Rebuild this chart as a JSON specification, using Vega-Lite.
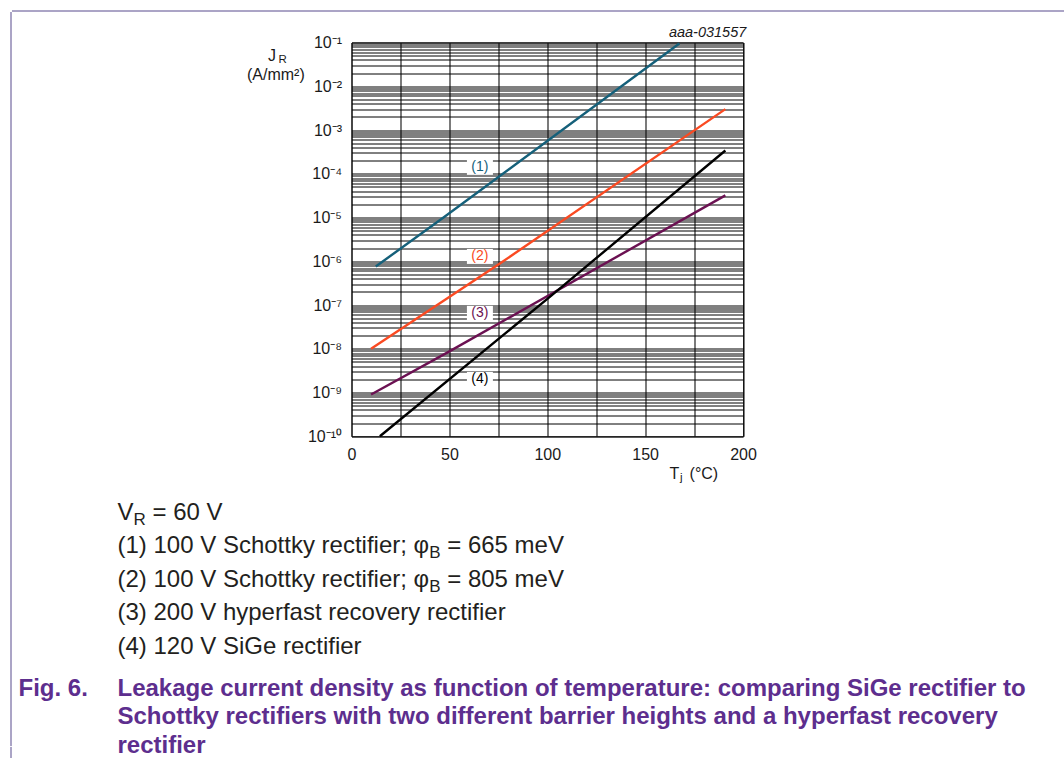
{
  "$schema": "https://vega.github.io/schema/vega-lite/v6.json",
  "background": "white",
  "padding": {"left": 9.5, "top": 9.5, "right": 0, "bottom": 0},
  "config": {"view": {"stroke": null}, "font": "Liberation Sans"},
  "bounds": "flush",
  "spacing": 0,
  "columns": 5,
  "align": "each",
  "concat": [
    {"width": 0.001, "height": 0.001, "data": {"values": []}, "mark": "point"},
    {"width": 7, "height": 0.001, "data": {"values": []}, "mark": "point", "view": {"stroke": "#8f86b3", "strokeWidth": 1}},
    {"width": 99, "height": 0.001, "data": {"values": []}, "mark": "point", "view": {"stroke": "#8f86b3", "strokeWidth": 1}},
    {"width": 234, "height": 0.001, "data": {"values": []}, "mark": "point", "view": {"stroke": "#8f86b3", "strokeWidth": 1}},
    {"width": 713, "height": 0.001, "data": {"values": []}, "mark": "point", "view": {"stroke": "#8f86b3", "strokeWidth": 1}},

    {"width": 0.001, "height": 31, "data": {"values": []}, "mark": "point", "view": {"stroke": "#8f86b3", "strokeWidth": 1}},
    {"width": 0.001, "height": 0.001, "data": {"values": []}, "mark": "point"},
    {"width": 0.001, "height": 0.001, "data": {"values": []}, "mark": "point"},
    {"width": 0.001, "height": 0.001, "data": {"values": []}, "mark": "point"},
    {"width": 0.001, "height": 0.001, "data": {"values": []}, "mark": "point"},

    {"width": 0.001, "height": 403, "data": {"values": []}, "mark": "point", "view": {"stroke": "#8f86b3", "strokeWidth": 1}},
    {"width": 0.001, "height": 0.001, "data": {"values": []}, "mark": "point"},
    {"width": 0.001, "height": 0.001, "data": {"values": []}, "mark": "point"},
    {"width": 0.001, "height": 0.001, "data": {"values": []}, "mark": "point"},
    {
      "width": 391.5,
      "height": 393.8,
      "view": {"stroke": "#000000", "strokeWidth": 1},
      "encoding": {
        "x": {
          "field": "T", "type": "quantitative",
          "scale": {"domain": [0, 200], "nice": false, "zero": false},
          "axis": {
            "title": null,
            "values": [0, 25, 50, 75, 100, 125, 150, 175, 200],
            "labelExpr": "datum.value % 50 == 0 ? datum.label : ''",
            "grid": true, "gridColor": "#222222", "gridWidth": 1.2, "gridOpacity": 1,
            "ticks": false, "domain": false,
            "labelFontSize": 16, "labelColor": "#1a1a1a", "labelPadding": 10,
            "labelFlush": false, "labelOverlap": false
          }
        },
        "y": {
          "field": "J", "type": "quantitative",
          "scale": {"type": "log", "domain": [1e-10, 0.1], "nice": false},
          "axis": {
            "title": null,
            "values": [1e-10, 2e-10, 3e-10, 4e-10, 5e-10, 6e-10, 7e-10, 8e-10, 9e-10,
                       1e-9, 2e-9, 3e-9, 4e-9, 5e-9, 6e-9, 7e-9, 8e-9, 9e-9,
                       1e-8, 2e-8, 3e-8, 4e-8, 5e-8, 6e-8, 7e-8, 8e-8, 9e-8,
                       1e-7, 2e-7, 3e-7, 4e-7, 5e-7, 6e-7, 7e-7, 8e-7, 9e-7,
                       1e-6, 2e-6, 3e-6, 4e-6, 5e-6, 6e-6, 7e-6, 8e-6, 9e-6,
                       1e-5, 2e-5, 3e-5, 4e-5, 5e-5, 6e-5, 7e-5, 8e-5, 9e-5,
                       1e-4, 2e-4, 3e-4, 4e-4, 5e-4, 6e-4, 7e-4, 8e-4, 9e-4,
                       1e-3, 2e-3, 3e-3, 4e-3, 5e-3, 6e-3, 7e-3, 8e-3, 9e-3,
                       1e-2, 2e-2, 3e-2, 4e-2, 5e-2, 6e-2, 7e-2, 8e-2, 9e-2,
                       1e-1],
            "labelExpr": "abs(log(datum.value)/LN10 - round(log(datum.value)/LN10)) < 0.001 ? ['10⁻¹⁰','10⁻⁹','10⁻⁸','10⁻⁷','10⁻⁶','10⁻⁵','10⁻⁴','10⁻³','10⁻²','10⁻¹'][round(log(datum.value)/LN10) + 10] : ''",
            "grid": true,
            "gridColor": "#000000",
            "gridWidth": 1, "gridOpacity": 1,
            "ticks": false, "domain": false,
            "labelFontSize": 16, "labelColor": "#1a1a1a", "labelPadding": 10,
            "labelFlush": false, "labelOverlap": false
          }
        }
      },
      "layer": [
        {
          "data": {"values": [
            {"series": "(1)", "T": 12.4, "J": 7.6e-7},
            {"series": "(1)", "T": 47, "J": 1.0e-5},
            {"series": "(1)", "T": 167.5, "J": 0.095},
            {"series": "(2)", "T": 10, "J": 1.0e-8},
            {"series": "(2)", "T": 76, "J": 9.0e-7},
            {"series": "(2)", "T": 191, "J": 3.0e-3},
            {"series": "(3)", "T": 10, "J": 9.0e-10},
            {"series": "(3)", "T": 49.8, "J": 8.6e-9},
            {"series": "(3)", "T": 191, "J": 3.2e-5},
            {"series": "(4)", "T": 14.5, "J": 1.0e-10},
            {"series": "(4)", "T": 101, "J": 1.5e-7},
            {"series": "(4)", "T": 191, "J": 3.4e-4}
          ]},
          "mark": {"type": "line", "strokeWidth": 2.4},
          "encoding": {
            "color": {
              "field": "series", "type": "nominal",
              "scale": {"domain": ["(1)", "(2)", "(3)", "(4)"], "range": ["#15607a", "#fa4a22", "#6b1152", "#000000"]},
              "legend": null
            }
          }
        },
        {
          "data": {"values": [
            {"series": "(1)", "T": 65.6, "J": 1.40e-4},
            {"series": "(2)", "T": 65.6, "J": 1.29e-6},
            {"series": "(3)", "T": 65.6, "J": 6.45e-8},
            {"series": "(4)", "T": 65.6, "J": 2.0e-9}
          ]},
          "layer": [
            {
              "mark": {"type": "point", "shape": "M-1.733,-1H1.733V1H-1.733Z", "size": 225, "filled": true, "color": "#ffffff", "opacity": 1, "strokeWidth": 0}
            },
            {
              "mark": {"type": "text", "fontSize": 14, "align": "center", "baseline": "middle"},
              "encoding": {
                "text": {"field": "series"},
                "color": {
                  "field": "series", "type": "nominal",
                  "scale": {"domain": ["(1)", "(2)", "(3)", "(4)"], "range": ["#15607a", "#fa4a22", "#6b1152", "#000000"]},
                  "legend": null
                }
              }
            }
          ]
        },
        {
          "data": {"values": [
            {"text": "J", "T": -42.6, "J": 0.0479},
            {"text": "(A/mm²)", "T": -53.4, "J": 0.01762},
            {"text": "T", "T": 162.5, "J": 1.355e-11},
            {"text": "(°C)", "T": 172.7, "J": 1.355e-11}
          ]},
          "mark": {"type": "text", "fontSize": 16, "align": "left", "baseline": "middle", "color": "#1a1a1a"},
          "encoding": {"text": {"field": "text"}}
        },
        {
          "data": {"values": [
            {"text": "R", "T": -37.3, "J": 0.0388},
            {"text": "j", "T": 167.8, "J": 1.1e-11}
          ]},
          "mark": {"type": "text", "fontSize": 11.5, "align": "left", "baseline": "middle", "color": "#1a1a1a"},
          "encoding": {"text": {"field": "text"}}
        },
        {
          "data": {"values": [
            {"text": "aaa-031557", "T": 201.7, "J": 0.1607}
          ]},
          "mark": {"type": "text", "fontSize": 14.5, "fontStyle": "italic", "align": "right", "baseline": "middle", "color": "#1a1a1a"},
          "encoding": {"text": {"field": "text"}}
        }
      ]
    },

    {"width": 0.001, "height": 201, "data": {"values": []}, "mark": "point", "view": {"stroke": "#8f86b3", "strokeWidth": 1}},
    {"width": 0.001, "height": 0.001, "data": {"values": []}, "mark": "point"},
    {"width": 0.001, "height": 0.001, "data": {"values": []}, "mark": "point"},
    {
      "width": 234,
      "height": 201,
      "data": {"values": [
        {"line": 0, "part": "main", "text": "V"},
        {"line": 1, "part": "main", "text": "(1) 100 V Schottky rectifier; φ"},
        {"line": 2, "part": "main", "text": "(2) 100 V Schottky rectifier; φ"},
        {"line": 3, "part": "main", "text": "(3) 200 V hyperfast recovery rectifier"},
        {"line": 4, "part": "main", "text": "(4) 120 V SiGe rectifier"},
        {"line": 0, "part": "sub0", "text": "R"},
        {"line": 0, "part": "post0", "text": "= 60 V"},
        {"line": 1, "part": "sub12", "text": "B"},
        {"line": 2, "part": "sub12", "text": "B"},
        {"line": 1, "part": "post12", "text": "= 665 meV"},
        {"line": 2, "part": "post12", "text": "= 805 meV"}
      ]},
      "encoding": {
        "x": {"datum": 0, "type": "quantitative", "scale": {"domain": [0, 1]}, "axis": null},
        "y": {"field": "line", "type": "ordinal", "scale": {"type": "point", "padding": 1, "align": 1, "domain": [0, 1, 2, 3, 4]}, "axis": null},
        "text": {"field": "text"}
      },
      "layer": [
        {"transform": [{"filter": "datum.part == 'main'"}], "mark": {"type": "text", "align": "left", "baseline": "middle", "fontSize": 24, "color": "#231f20"}},
        {"transform": [{"filter": "datum.part == 'sub0'"}], "mark": {"type": "text", "align": "left", "baseline": "middle", "fontSize": 17, "dx": 16, "dy": 7, "color": "#231f20"}},
        {"transform": [{"filter": "datum.part == 'post0'"}], "mark": {"type": "text", "align": "left", "baseline": "middle", "fontSize": 24, "dx": 35, "color": "#231f20"}},
        {"transform": [{"filter": "datum.part == 'sub12'"}], "mark": {"type": "text", "align": "left", "baseline": "middle", "fontSize": 17, "dx": 311.7, "dy": 7, "color": "#231f20"}},
        {"transform": [{"filter": "datum.part == 'post12'"}], "mark": {"type": "text", "align": "left", "baseline": "middle", "fontSize": 24, "dx": 329.7, "color": "#231f20"}}
      ]
    },
    {"width": 0.001, "height": 0.001, "data": {"values": []}, "mark": "point"},

    {"width": 0.001, "height": 99.1, "data": {"values": []}, "mark": "point", "view": {"stroke": "#8f86b3", "strokeWidth": 1}},
    {"width": 0.001, "height": 0.001, "data": {"values": []}, "mark": "point"},
    {
      "width": 99,
      "height": 99.1,
      "data": {"values": [{"line": 0, "text": "Fig. 6."}]},
      "mark": {"type": "text", "align": "left", "baseline": "middle", "fontSize": 24, "fontWeight": "bold", "color": "#5d2e8e"},
      "encoding": {
        "x": {"datum": 0, "type": "quantitative", "scale": {"domain": [0, 1]}, "axis": null},
        "y": {"field": "line", "type": "ordinal", "scale": {"type": "point", "padding": 0.7509, "align": 1, "domain": [0, 1, 2]}, "axis": null},
        "text": {"field": "text"}
      }
    },
    {
      "width": 234,
      "height": 99.1,
      "data": {"values": [
        {"line": 0, "text": "Leakage current density as function of temperature: comparing SiGe rectifier to"},
        {"line": 1, "text": "Schottky rectifiers with two different barrier heights and a hyperfast recovery"},
        {"line": 2, "text": "rectifier"}
      ]},
      "mark": {"type": "text", "align": "left", "baseline": "middle", "fontSize": 24, "fontWeight": "bold", "color": "#5d2e8e"},
      "encoding": {
        "x": {"datum": 0, "type": "quantitative", "scale": {"domain": [0, 1]}, "axis": null},
        "y": {"field": "line", "type": "ordinal", "scale": {"type": "point", "padding": 0.7509, "align": 1, "domain": [0, 1, 2]}, "axis": null},
        "text": {"field": "text"}
      }
    },
    {"width": 0.001, "height": 0.001, "data": {"values": []}, "mark": "point"},

    {"width": 0.001, "height": 12, "data": {"values": []}, "mark": "point", "view": {"stroke": "#8f86b3", "strokeWidth": 1}},
    {"width": 0.001, "height": 0.001, "data": {"values": []}, "mark": "point"},
    {"width": 0.001, "height": 0.001, "data": {"values": []}, "mark": "point"},
    {"width": 0.001, "height": 0.001, "data": {"values": []}, "mark": "point"},
    {"width": 0.001, "height": 0.001, "data": {"values": []}, "mark": "point"}
  ]
}
